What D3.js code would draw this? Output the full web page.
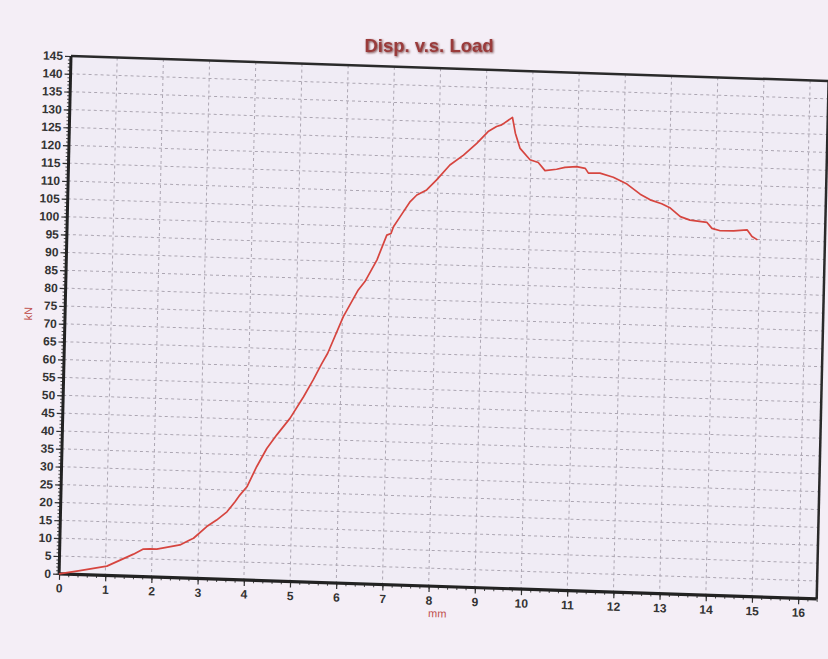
<!DOCTYPE html>
<html>
<head>
<meta charset="utf-8">
<script src="https://cdn.jsdelivr.net/npm/d3@7"></script>
<style>
  html, body { margin: 0; padding: 0; background: #f4eef6; }
  svg { display: block; }
  text { font-family: Arial, "Liberation Sans", sans-serif; }
</style>
</head>
<body>
<svg id="chart" width="828" height="659"></svg>
<script>
// Displacement (mm) and load (kN) of the test record
const disp = [0, 0.45, 1.03, 1.60, 1.81, 1.95, 2.10, 2.60, 2.81, 2.89, 3.17, 3.38, 3.60, 3.77, 3.87,
  4.02, 4.22, 4.43, 4.64, 4.92, 5.20, 5.40, 5.58, 5.70, 6.02, 6.33, 6.47, 6.72, 6.92, 7.01, 7.06,
  7.20, 7.41, 7.55, 7.76, 7.97, 8.25, 8.54, 8.82, 9.06, 9.24, 9.35, 9.58, 9.65, 9.76, 9.98, 10.16,
  10.31, 10.56, 10.74, 10.99, 11.18, 11.25, 11.50, 11.79, 12.09, 12.38, 12.60, 12.85, 13.04, 13.26,
  13.47, 13.84, 13.95, 14.13, 14.42, 14.71, 14.82, 14.94];
const load = [0, 1.1, 2.6, 6.2, 7.7, 7.8, 7.8, 9.2, 10.7, 11.2, 14.6, 16.5, 18.9, 21.8, 23.7,
  26.1, 31.8, 37.0, 40.9, 45.7, 51.8, 56.6, 61.3, 64.2, 74.6, 82.2, 84.6, 90.8, 97.8, 98.3, 100.2,
  103.1, 107.4, 109.3, 110.8, 113.7, 118.0, 120.9, 124.3, 127.7, 129.2, 129.7, 131.9, 127.5, 123.3, 120.2, 119.5,
  117.3, 117.8, 118.4, 118.7, 118.3, 117.0, 117.1, 116.1, 114.3, 111.6, 110.1, 109.1, 108.0, 105.7,
  104.8, 104.3, 102.7, 102.1, 102.2, 102.6, 100.8, 99.9];

const xTicks = d3.range(0, 17, 1);        // 0 .. 16 mm
const yTicks = d3.range(0, 150, 5);       // 0 .. 145 kN
const xMinor = d3.range(0, 16.41, 0.2);
const yMinor = d3.range(0, 146, 1);

const titleText = "Disp. v.s. Load";
const xLabel = "mm";
const yLabel = "kN";

const W = 758, H = 518;
const svg = d3.select("#chart");

const defs = svg.append("defs");
const sh = defs.append("filter").attr("id", "shadow").attr("x", "-10%").attr("y", "-30%")
  .attr("width", "130%").attr("height", "170%");
sh.append("feGaussianBlur").attr("in", "SourceAlpha").attr("stdDeviation", 1).attr("result", "b");
sh.append("feOffset").attr("in", "b").attr("dx", 1).attr("dy", 1).attr("result", "o");
sh.append("feFlood").attr("flood-color", "#5a1c1c").attr("flood-opacity", 0.8).attr("result", "c");
sh.append("feComposite").attr("in", "c").attr("in2", "o").attr("operator", "in").attr("result", "s");
const m = sh.append("feMerge");
m.append("feMergeNode").attr("in", "s");
m.append("feMergeNode").attr("in", "SourceGraphic");

// Title
svg.append("text")
  .attr("x", 429).attr("y", 52)
  .attr("text-anchor", "middle")
  .attr("font-size", 18.5).attr("font-weight", "bold")
  .attr("fill", "#9a3b3b")
  .attr("filter", "url(#shadow)")
  .text(titleText);

// Plot group: sheet sits slightly skewed on the page
const g = svg.append("g")
  .attr("transform", "matrix(0.9995,0.033,-0.023,0.9997,71,56)");

const x = d3.scaleLinear().domain([0, 16.4]).range([0, W]);
const y = d3.scaleLinear().domain([0, 145]).range([H, 0]);

g.append("rect").attr("width", W).attr("height", H).attr("fill", "#f0ecf5");

// Dashed grid
g.append("g").selectAll("line").data(xTicks.filter(d => d > 0)).join("line")
  .attr("x1", d => x(d)).attr("x2", d => x(d)).attr("y1", 0).attr("y2", H)
  .attr("stroke", "#aca6b2").attr("stroke-width", 1).attr("stroke-dasharray", "3,3");
g.append("g").selectAll("line").data(yTicks.filter(d => d > 0 && d < 145)).join("line")
  .attr("x1", 0).attr("x2", W).attr("y1", d => y(d)).attr("y2", d => y(d))
  .attr("stroke", "#aca6b2").attr("stroke-width", 1).attr("stroke-dasharray", "3,3");

// Minor ticks
const yMin = g.append("g").call(d3.axisLeft(y).tickValues(yMinor).tickSize(3).tickFormat(""));
yMin.select(".domain").remove();
yMin.selectAll("line").attr("stroke", "#444");
const xMin = g.append("g").attr("transform", `translate(0,${H})`)
  .call(d3.axisBottom(x).tickValues(xMinor).tickSize(3).tickFormat(""));
xMin.select(".domain").remove();
xMin.selectAll("line").attr("stroke", "#444");

// Major ticks and labels
const yAx = g.append("g").call(d3.axisLeft(y).tickValues(yTicks).tickSize(6).tickPadding(2));
yAx.select(".domain").remove();
yAx.selectAll("line").attr("stroke", "#333").attr("stroke-width", 1.2);
yAx.selectAll("text").attr("font-size", 12).attr("font-weight", "bold").attr("fill", "#333")
  .attr("font-family", "Arial, 'Liberation Sans', sans-serif");

const xAx = g.append("g").attr("transform", `translate(0,${H})`)
  .call(d3.axisBottom(x).tickValues(xTicks).tickSize(6).tickPadding(4));
xAx.select(".domain").remove();
xAx.selectAll("line").attr("stroke", "#333").attr("stroke-width", 1.2);
xAx.selectAll("text").attr("font-size", 12).attr("font-weight", "bold").attr("fill", "#333")
  .attr("font-family", "Arial, 'Liberation Sans', sans-serif");

// Frame
g.append("line").attr("x1", W).attr("x2", W).attr("y1", 0).attr("y2", H)
  .attr("stroke", "#2a2a2a").attr("stroke-width", 2.5);
g.append("line").attr("x1", 0).attr("x2", W).attr("y1", 0).attr("y2", 0)
  .attr("stroke", "#2a2a2a").attr("stroke-width", 2.5);
g.append("line").attr("x1", 0).attr("x2", 0).attr("y1", 0).attr("y2", H)
  .attr("stroke", "#222").attr("stroke-width", 3);
g.append("line").attr("x1", 0).attr("x2", W).attr("y1", H).attr("y2", H)
  .attr("stroke", "#222").attr("stroke-width", 3.2);

// Load curve
const line = d3.line().x((d, i) => x(disp[i])).y((d, i) => y(load[i]));
g.append("path").datum(load)
  .attr("d", line)
  .attr("fill", "none")
  .attr("stroke", "#d6453f")
  .attr("stroke-width", 1.7)
  .attr("stroke-linejoin", "round");

// Axis titles
g.append("text")
  .attr("transform", `translate(-33,${H / 2}) rotate(-90)`)
  .attr("text-anchor", "middle")
  .attr("font-size", 11).attr("fill", "#c0504d")
  .text(yLabel);
g.append("text")
  .attr("x", x(8.2)).attr("y", H + 31)
  .attr("text-anchor", "middle")
  .attr("font-size", 11).attr("fill", "#c0504d")
  .text(xLabel);
</script>
</body>
</html>
